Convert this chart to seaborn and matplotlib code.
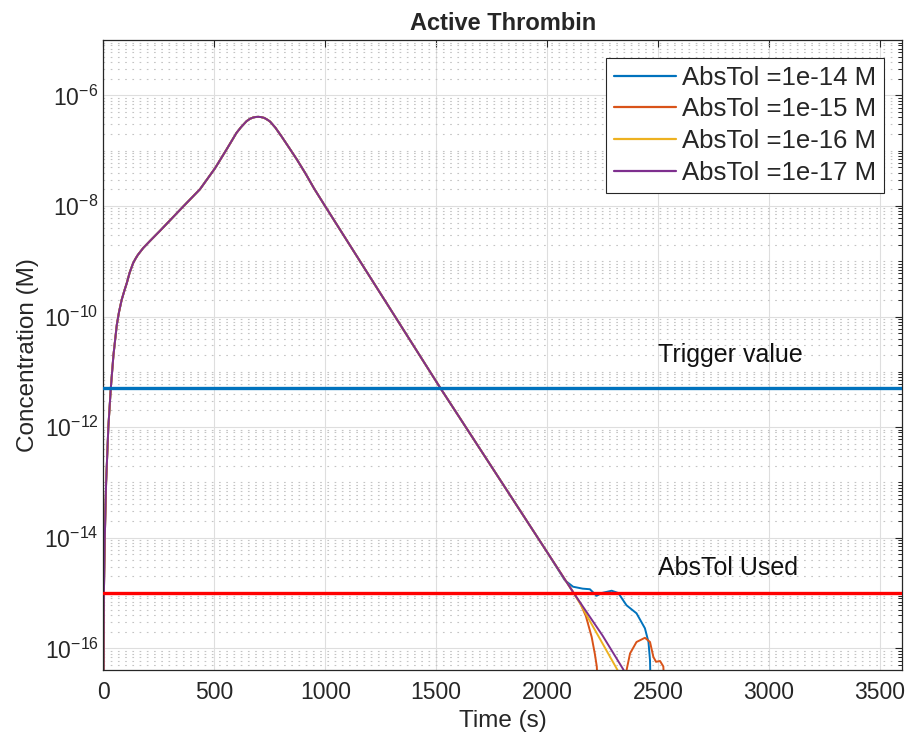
import numpy as np
import pandas as pd
import matplotlib
matplotlib.use("Agg")
import matplotlib.pyplot as plt
import matplotlib.ticker as mticker
import seaborn as sns

# Settings
sns.set_style("white")
plt.rcParams["font.family"] = ["Liberation Sans", "DejaVu Sans"]
plt.rcParams["mathtext.fontset"] = "custom"
plt.rcParams["mathtext.rm"] = "Liberation Sans"
plt.rcParams["mathtext.it"] = "Liberation Sans:italic"
plt.rcParams["mathtext.bf"] = "Liberation Sans:bold"

# Data
# shared trajectory (AbsTol = 1e-17 follows it to the end)
t_main = [0, 1, 2, 6, 12, 22, 33, 45, 60, 70, 82, 95, 105, 118, 134, 145, 155,
          167, 179, 210, 255, 360, 435, 503, 555, 600, 620, 645, 660, 675, 688,
          698, 710, 725, 740, 751, 775, 803, 840, 871, 910, 950, 1000, 1520,
          2000, 2120]
c_main = [1e-17, 1.2e-16, 1e-15, 1e-14, 1e-13, 1e-12, 5e-12, 2e-11, 7e-11,
          1.2e-10, 2e-10, 3e-10, 4e-10, 6.2e-10, 9.3e-10, 1.12e-9, 1.3e-9,
          1.5e-9, 1.73e-9, 2.33e-9, 3.55e-9, 9.8e-9, 2e-8, 4.8e-8, 1.05e-7,
          2.1e-7, 2.65e-7, 3.4e-7, 3.75e-7, 3.97e-7, 4.06e-7, 4.08e-7, 4.04e-7,
          3.9e-7, 3.6e-7, 3.35e-7, 2.6e-7, 1.8e-7, 1.08e-7, 7.0e-8, 3.9e-8,
          2.05e-8, 9.8e-9, 5e-12, 5.5e-15, 1e-15]

# tails where the tolerances diverge
t_tail_14 = [2080, 2117, 2160, 2193, 2223, 2246, 2291, 2321, 2358, 2403, 2441,
             2457, 2464, 2468]
c_tail_14 = [1.7e-15, 1.3e-15, 1.2e-15, 1.17e-15, 8.9e-16, 1.0e-15, 1.1e-15,
             1.0e-15, 6.0e-16, 4.3e-16, 2.3e-16, 1.3e-16, 6e-17, 1e-17]

t_tail_15 = [2150, 2175, 2201, 2215, 2224, 2232, 2350, 2358, 2374, 2403, 2441,
             2464, 2479, 2491, 2509, 2524, 2532]
c_tail_15 = [6.5e-16, 3.8e-16, 1.6e-16, 8e-17, 4.7e-17, 1e-17, 1e-17, 4e-17,
             8.1e-17, 1.3e-16, 1.55e-16, 1.3e-16, 7e-17, 5.7e-17, 5.9e-17,
             4.7e-17, 1e-17]

t_tail_16 = [2148, 2317, 2335]
c_tail_16 = [6.5e-16, 4.07e-17, 3e-17]

t_tail_17 = [2250, 2365]
c_tail_17 = [1.7e-16, 3e-17]

labels = ["AbsTol =1e-14 M", "AbsTol =1e-15 M", "AbsTol =1e-16 M", "AbsTol =1e-17 M"]
colors = ["#0072BD", "#D95319", "#EDB120", "#7E2F8E"]

trigger_value = 5e-12
abstol_used = 1e-15

# build long table
n14 = t_main.index(2000) + 1
series = [
    (t_main[:n14] + t_tail_14, c_main[:n14] + c_tail_14),
    (t_main + t_tail_15, c_main + c_tail_15),
    (t_main + t_tail_16, c_main + c_tail_16),
    (t_main + t_tail_17, c_main + c_tail_17),
]
frames = []
for lab, (t, c) in zip(labels, series):
    frames.append(pd.DataFrame({"t": t, "c": c, "run": lab}))
df = pd.concat(frames, ignore_index=True)

# Plot
fig = plt.figure(figsize=(9.06, 7.38), dpi=100)
ax = fig.add_axes([0.1142, 0.0921, 0.8814, 0.8537])
ax.set_yscale("log")

sns.lineplot(data=df, x="t", y="c", hue="run", palette=colors, hue_order=labels,
             sort=False, estimator=None, linewidth=1.4, ax=ax, legend=False)

ax.axhline(trigger_value, color="#0072BD", linewidth=2.4, zorder=5)
ax.axhline(abstol_used, color="#FF0000", linewidth=2.4, zorder=5)

ax.text(2500, 2e-11, "Trigger value", fontsize=18, va="center", ha="left", color="#111111")
ax.text(2500, 2.8e-15, "AbsTol Used", fontsize=18, va="center", ha="left", color="#111111")

ax.set_xlim(0, 3600)
ax.set_ylim(4.05e-17, 1e-5)
ax.set_xticks(np.arange(0, 3501, 500))
ax.yaxis.set_major_locator(mticker.FixedLocator([1e-16, 1e-14, 1e-12, 1e-10, 1e-8, 1e-6]))
ax.yaxis.set_minor_locator(mticker.LogLocator(base=10, subs=np.arange(1, 10), numticks=50))
ax.yaxis.set_minor_formatter(mticker.NullFormatter())

ax.tick_params(which="both", direction="in", top=True, right=True,
               colors="#262626", labelsize=16.5)
ax.tick_params(which="major", length=5, width=0.8)
ax.tick_params(which="minor", length=3, width=0.7)
ax.tick_params(axis="x", which="minor", bottom=False, top=False)
ax.tick_params(axis="x", pad=8)

ax.grid(True, which="major", color="#dedede", linewidth=0.8, linestyle="-")
ax.yaxis.grid(True, which="minor", color="#c4c4c4", linewidth=0.8,
              linestyle=(0, (1.5, 5)))
ax.set_axisbelow(True)

for s in ax.spines.values():
    s.set_color("#262626")
    s.set_linewidth(0.9)

ax.set_xlabel("Time (s)", fontsize=17.5, color="#262626")
ax.set_ylabel("Concentration (M)", fontsize=17.5, color="#262626")
ax.set_title("Active Thrombin", fontsize=17, fontweight="bold", pad=7)

handles = [plt.Line2D([], [], color=c, linewidth=1.6) for c in colors]
leg = ax.legend(handles, labels, loc="upper right", fontsize=18.5, frameon=True,
                fancybox=False, edgecolor="#262626", framealpha=1,
                borderaxespad=0.7, handlelength=2.4, handletextpad=0.25,
                labelspacing=0.3, borderpad=0.3)
leg.get_frame().set_linewidth(0.8)
leg.set_zorder(10)

plt.savefig("out.png", dpi=100)
